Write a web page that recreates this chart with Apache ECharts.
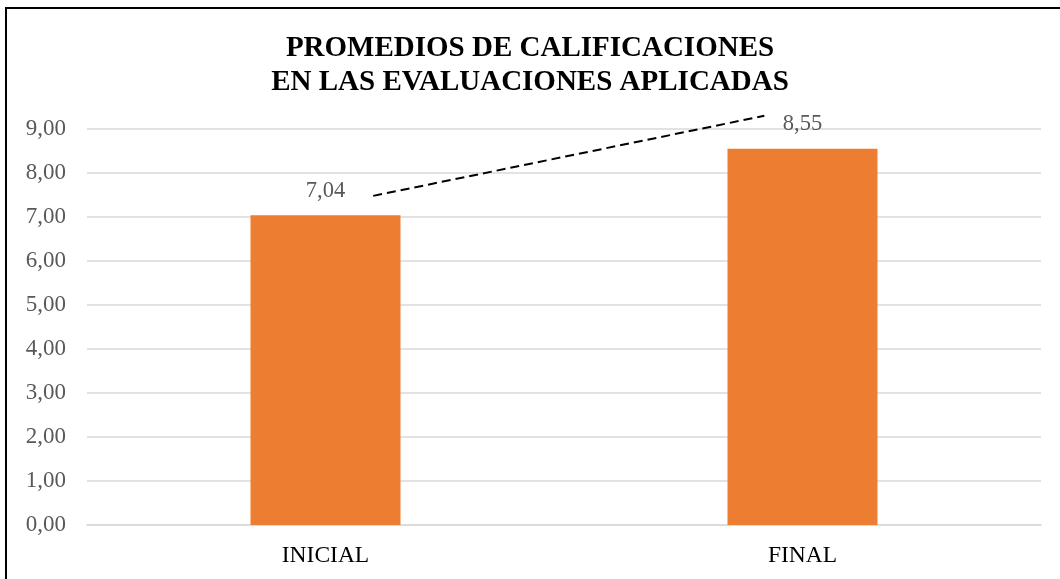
<!DOCTYPE html>
<html>
<head>
<meta charset="utf-8">
<script src="https://cdn.jsdelivr.net/npm/echarts@6/dist/echarts.min.js"></script>
<style>
  html, body { margin: 0; padding: 0; background: #fff; }
  #chart { width: 1060px; height: 579px; }
</style>
</head>
<body>
<div id="chart"></div>
<script>
// categorias y promedios
const categories = ['INICIAL', 'FINAL'];
const averages = [7.04, 8.55];
// linea discontinua (posicion en categorias, valor)
const trendX = [0.10, 0.92];
const trendY = [7.48, 9.30];

const fmt = v => v.toFixed(2).replace('.', ',');

const chart = echarts.init(document.getElementById('chart'));
const option = {
  animation: false,
  backgroundColor: '#fff',
  title: {
    text: 'PROMEDIOS DE CALIFICACIONES\nEN LAS EVALUACIONES APLICADAS',
    left: 'center',
    top: 27,
    textStyle: {
      fontFamily: 'Liberation Serif',
      fontWeight: 'bold',
      fontSize: 29,
      lineHeight: 34,
      color: '#000'
    }
  },
  graphic: [{
    type: 'rect',
    shape: { x: 6, y: 8, width: 1100, height: 620 },
    style: { fill: 'none', stroke: '#000', lineWidth: 2 },
    silent: true
  }],
  grid: { left: 87, right: 19, top: 129, bottom: 54 },
  xAxis: [
    {
      type: 'category',
      data: categories,
      axisTick: { show: false },
      axisLine: { show: true, lineStyle: { color: '#d9d9d9', width: 1.5 } },
      axisLabel: {
        fontFamily: 'Liberation Serif',
        fontSize: 23.5,
        color: '#000',
        margin: 19
      }
    },
    {
      type: 'value',
      min: -0.5,
      max: 1.5,
      show: false
    }
  ],
  yAxis: {
    type: 'value',
    min: 0,
    max: 9,
    interval: 1,
    axisLine: { show: false },
    axisTick: { show: false },
    splitLine: { lineStyle: { color: '#d9d9d9', width: 1.5 } },
    axisLabel: {
      fontFamily: 'Liberation Serif',
      fontSize: 23,
      color: '#595959',
      margin: 21,
      formatter: v => fmt(v)
    }
  },
  series: [
    {
      type: 'bar',
      data: averages,
      barWidth: 150,
      itemStyle: { color: '#ED7D31' },
      label: {
        show: true,
        position: 'top',
        distance: 13,
        fontFamily: 'Liberation Serif',
        fontSize: 22.5,
        color: '#595959',
        formatter: p => fmt(p.value)
      }
    },
    {
      type: 'line',
      xAxisIndex: 1,
      data: trendX.map((x, i) => [x, trendY[i]]),
      symbol: 'none',
      clip: false,
      lineStyle: { color: '#000', width: 2, type: [9, 5] },
      silent: true
    }
  ]
};
chart.setOption(option);
window.onresize = function () {
  chart.resize();
};
</script>
</body>
</html>
